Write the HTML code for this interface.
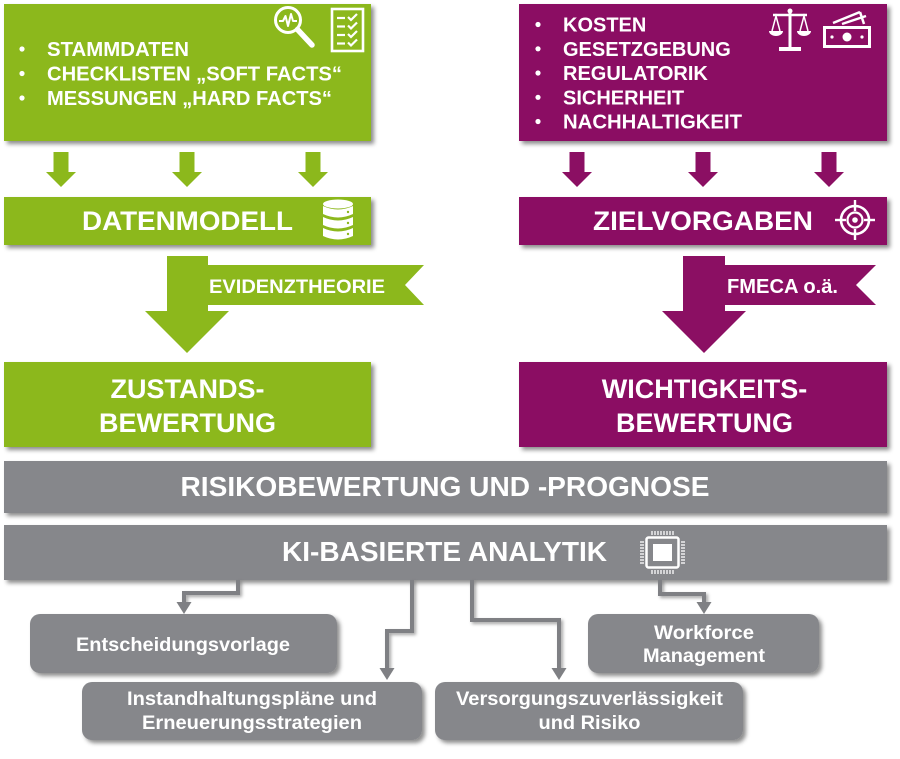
<!DOCTYPE html>
<html><head><meta charset="utf-8"><style>
html,body{margin:0;padding:0;background:#fff;}
svg{display:block;}
text{font-family:"Liberation Sans",Arial,sans-serif;font-weight:bold;fill:#fff;}
</style></head><body>
<svg width="900" height="759" viewBox="0 0 900 759" xmlns="http://www.w3.org/2000/svg">
<defs>
<filter id="sh" x="-5%" y="-10%" width="115%" height="130%">
<feDropShadow dx="3" dy="3" stdDeviation="2" flood-color="#000" flood-opacity="0.45"/>
</filter>
<filter id="sh2" x="-5%" y="-10%" width="115%" height="130%">
<feDropShadow dx="2" dy="2" stdDeviation="1.5" flood-color="#000" flood-opacity="0.35"/>
</filter>
</defs>

<!-- ===== Top green box ===== -->
<rect x="4" y="4" width="367" height="137" fill="#8CB81C" filter="url(#sh)"/>
<circle cx="22" cy="49" r="2.6" fill="#fff"/>
<circle cx="22" cy="73.5" r="2.6" fill="#fff"/>
<circle cx="22" cy="98" r="2.6" fill="#fff"/>
<text x="47" y="56" font-size="20" textLength="142" lengthAdjust="spacingAndGlyphs">STAMMDATEN</text>
<text x="47" y="80.5" font-size="20" textLength="295" lengthAdjust="spacingAndGlyphs">CHECKLISTEN „SOFT FACTS“</text>
<text x="47" y="105" font-size="20" textLength="285" lengthAdjust="spacingAndGlyphs">MESSUNGEN „HARD FACTS“</text>
<!-- magnifier icon -->
<circle cx="288" cy="20" r="12.5" fill="none" stroke="#fff" stroke-width="3"/>
<line x1="297.5" y1="29.5" x2="312" y2="45" stroke="#fff" stroke-width="5.5" stroke-linecap="round"/>
<polyline points="279,21 283,21 285.5,16 288,26 291,14 293,21 297,21" fill="none" stroke="#fff" stroke-width="2" stroke-linejoin="round"/>
<!-- checklist icon -->
<rect x="332" y="9" width="31" height="42" fill="none" stroke="#fff" stroke-width="2.6"/>
<g stroke="#fff" stroke-width="2.2" fill="none">
<line x1="337" y1="18" x2="345" y2="18"/><polyline points="348,17 351,20 357,14"/>
<line x1="337" y1="26.5" x2="345" y2="26.5"/><polyline points="348,25.5 351,28.5 357,22.5"/>
<line x1="337" y1="35" x2="345" y2="35"/><polyline points="348,34 351,37 357,31"/>
<line x1="337" y1="43.5" x2="345" y2="43.5"/><polyline points="348,42.5 351,45.5 357,39.5"/>
</g>

<!-- ===== Top purple box ===== -->
<rect x="519" y="4" width="368" height="137" fill="#8B0F63" filter="url(#sh)"/>
<circle cx="538" cy="24.5" r="2.6" fill="#fff"/>
<circle cx="538" cy="48.8" r="2.6" fill="#fff"/>
<circle cx="538" cy="73" r="2.6" fill="#fff"/>
<circle cx="538" cy="97.3" r="2.6" fill="#fff"/>
<circle cx="538" cy="121.5" r="2.6" fill="#fff"/>
<text x="563" y="31.5" font-size="20">KOSTEN</text>
<text x="563" y="55.8" font-size="20">GESETZGEBUNG</text>
<text x="563" y="80" font-size="20">REGULATORIK</text>
<text x="563" y="104.3" font-size="20">SICHERHEIT</text>
<text x="563" y="128.5" font-size="20" textLength="179" lengthAdjust="spacingAndGlyphs">NACHHALTIGKEIT</text>
<!-- scales icon -->
<g fill="#fff" stroke="#fff">
<line x1="790" y1="9" x2="790" y2="48" stroke-width="3"/>
<line x1="773" y1="15" x2="807" y2="15" stroke-width="2.5"/>
<circle cx="790" cy="11" r="2.5" stroke="none"/>
<rect x="779" y="47" width="22" height="4" stroke="none"/>
<polyline points="772,31 776,16 780,31" fill="none" stroke-width="1.5"/>
<polyline points="800,31 804,16 808,31" fill="none" stroke-width="1.5"/>
<path d="M769,31 H783 A7,5 0 0 1 769,31 Z" stroke="none"/>
<path d="M797,31 H811 A7,5 0 0 1 797,31 Z" stroke="none"/>
</g>
<!-- money icon -->
<g stroke="#fff" fill="none">
<rect x="824.5" y="27.5" width="45" height="19" stroke-width="3"/>
<line x1="833" y1="23" x2="860" y2="12" stroke-width="2.5"/>
<line x1="842" y1="24" x2="866" y2="16" stroke-width="2.5"/>
<line x1="860" y1="12" x2="864" y2="24" stroke-width="2.5"/>
</g>
<circle cx="847" cy="37" r="4.5" fill="#fff"/>
<circle cx="832" cy="37" r="1.6" fill="#fff"/>
<circle cx="862" cy="37" r="1.6" fill="#fff"/>

<!-- ===== small arrows ===== -->
<g fill="#8CB81C">
<polygon points="53.5,152 68.5,152 68.5,172 76,172 61,187 46,172 53.5,172"/>
<polygon points="179.5,152 194.5,152 194.5,172 202,172 187,187 172,172 179.5,172"/>
<polygon points="305.5,152 320.5,152 320.5,172 328,172 313,187 298,172 305.5,172"/>
</g>
<g fill="#8B0F63">
<polygon points="569.5,152 584.5,152 584.5,172 592,172 577,187 562,172 569.5,172"/>
<polygon points="695.5,152 710.5,152 710.5,172 718,172 703,187 688,172 695.5,172"/>
<polygon points="821.5,152 836.5,152 836.5,172 844,172 829,187 814,172 821.5,172"/>
</g>

<!-- ===== DATENMODELL ===== -->
<rect x="4" y="197" width="367" height="48" fill="#8CB81C" filter="url(#sh)"/>
<text x="82" y="230" font-size="27" textLength="211" lengthAdjust="spacingAndGlyphs">DATENMODELL</text>
<!-- database icon -->
<g fill="#fff">
<ellipse cx="338" cy="204" rx="15" ry="4.5"/>
<path d="M323,206 Q338,213 353,206 V214 Q338,221 323,214 Z"/>
<path d="M323,217 Q338,224 353,217 V225 Q338,232 323,225 Z"/>
<path d="M323,228 Q338,235 353,228 V236 Q338,243 323,236 Z"/>
</g>
<g fill="#8CB81C">
<circle cx="348" cy="212" r="1.2"/><circle cx="348" cy="223" r="1.2"/><circle cx="348" cy="234" r="1.2"/>
</g>

<!-- ===== ZIELVORGABEN ===== -->
<rect x="519" y="197" width="368" height="48" fill="#8B0F63" filter="url(#sh)"/>
<text x="593" y="230" font-size="27" textLength="220" lengthAdjust="spacingAndGlyphs">ZIELVORGABEN</text>
<!-- target icon -->
<g stroke="#fff" fill="none">
<circle cx="855" cy="220" r="14" stroke-width="2.6"/>
<circle cx="855" cy="220" r="7.5" stroke-width="2.2"/>
<line x1="835" y1="220" x2="846" y2="220" stroke-width="2.4"/>
<line x1="864" y1="220" x2="875" y2="220" stroke-width="2.4"/>
<line x1="855" y1="200" x2="855" y2="211" stroke-width="2.4"/>
<line x1="855" y1="229" x2="855" y2="240" stroke-width="2.4"/>
</g>
<circle cx="855" cy="220" r="2.8" fill="#fff"/>

<!-- ===== big arrows + banners ===== -->
<polygon points="167,256 208,256 208,311 229,311 187,353 145,311 167,311" fill="#8CB81C"/>
<polygon points="208,265 424,265 405,285 424,305 208,305" fill="#8CB81C"/>
<text x="209" y="293" font-size="19.5" textLength="176" lengthAdjust="spacingAndGlyphs">EVIDENZTHEORIE</text>

<polygon points="683,256 725,256 725,311 746,311 704,353 662,311 683,311" fill="#8B0F63"/>
<polygon points="725,265 876,265 856,285 876,305 725,305" fill="#8B0F63"/>
<text x="727" y="293" font-size="20" textLength="111" lengthAdjust="spacingAndGlyphs">FMECA o.ä.</text>

<!-- ===== Bewertung boxes ===== -->
<rect x="4" y="362" width="367" height="85" fill="#8CB81C" filter="url(#sh)"/>
<text x="187.5" y="398" font-size="27" text-anchor="middle">ZUSTANDS-</text>
<text x="187.5" y="432" font-size="27" text-anchor="middle">BEWERTUNG</text>

<rect x="519" y="362" width="368" height="85" fill="#8B0F63" filter="url(#sh)"/>
<text x="704.5" y="398" font-size="27" text-anchor="middle">WICHTIGKEITS-</text>
<text x="704.5" y="432" font-size="27" text-anchor="middle">BEWERTUNG</text>

<!-- ===== gray bars ===== -->
<rect x="4" y="461" width="883" height="52" fill="#86878B" filter="url(#sh)"/>
<text x="445" y="496" font-size="27.5" text-anchor="middle" textLength="529" lengthAdjust="spacingAndGlyphs">RISIKOBEWERTUNG UND -PROGNOSE</text>

<rect x="4" y="525" width="883" height="55" fill="#86878B" filter="url(#sh)"/>
<text x="282" y="561" font-size="27.5" textLength="325" lengthAdjust="spacingAndGlyphs">KI-BASIERTE ANALYTIK</text>
<!-- chip icon -->
<rect x="646.5" y="537.5" width="32" height="30" rx="2" fill="none" stroke="#fff" stroke-width="2.5"/>
<rect x="653" y="544" width="19" height="17" fill="#fff"/>
<g stroke="#fff" stroke-width="1.3">
<line x1="652" y1="531" x2="652" y2="535"/><line x1="655" y1="531" x2="655" y2="535"/><line x1="658" y1="531" x2="658" y2="535"/><line x1="661" y1="531" x2="661" y2="535"/><line x1="664" y1="531" x2="664" y2="535"/><line x1="667" y1="531" x2="667" y2="535"/><line x1="670" y1="531" x2="670" y2="535"/><line x1="673" y1="531" x2="673" y2="535"/>
<line x1="652" y1="570" x2="652" y2="574"/><line x1="655" y1="570" x2="655" y2="574"/><line x1="658" y1="570" x2="658" y2="574"/><line x1="661" y1="570" x2="661" y2="574"/><line x1="664" y1="570" x2="664" y2="574"/><line x1="667" y1="570" x2="667" y2="574"/><line x1="670" y1="570" x2="670" y2="574"/><line x1="673" y1="570" x2="673" y2="574"/>
<line x1="640" y1="542" x2="644" y2="542"/><line x1="640" y1="545" x2="644" y2="545"/><line x1="640" y1="548" x2="644" y2="548"/><line x1="640" y1="551" x2="644" y2="551"/><line x1="640" y1="554" x2="644" y2="554"/><line x1="640" y1="557" x2="644" y2="557"/><line x1="640" y1="560" x2="644" y2="560"/><line x1="640" y1="563" x2="644" y2="563"/>
<line x1="681" y1="542" x2="685" y2="542"/><line x1="681" y1="545" x2="685" y2="545"/><line x1="681" y1="548" x2="685" y2="548"/><line x1="681" y1="551" x2="685" y2="551"/><line x1="681" y1="554" x2="685" y2="554"/><line x1="681" y1="557" x2="685" y2="557"/><line x1="681" y1="560" x2="685" y2="560"/><line x1="681" y1="563" x2="685" y2="563"/>
</g>

<!-- ===== connectors ===== -->
<g stroke="#7F8084" stroke-width="4" fill="none" filter="url(#sh2)">
<polyline points="238,580 238,593 184,593 184,603"/>
<polyline points="412,580 412,631 387,631 387,669"/>
<polyline points="472,580 472,620 559,620 559,669"/>
<polyline points="660,580 660,594 704,594 704,603"/>
</g>
<g fill="#7F8084">
<polygon points="176.5,602 191.5,602 184,614"/>
<polygon points="379.5,668 394.5,668 387,680"/>
<polygon points="551.5,668 566.5,668 559,680"/>
<polygon points="696.5,602 711.5,602 704,614"/>
</g>

<!-- ===== output boxes ===== -->
<g fill="#86878B" filter="url(#sh)">
<rect x="30" y="614" width="307" height="59" rx="10"/>
<rect x="588" y="614" width="231" height="59" rx="10"/>
<rect x="82" y="682" width="340" height="58" rx="10"/>
<rect x="435" y="682" width="308" height="58" rx="10"/>
</g>
<text x="183" y="651" font-size="19" text-anchor="middle" textLength="214" lengthAdjust="spacingAndGlyphs">Entscheidungsvorlage</text>
<text x="704" y="639" font-size="19" text-anchor="middle" textLength="100" lengthAdjust="spacingAndGlyphs">Workforce</text>
<text x="704" y="662" font-size="19" text-anchor="middle" textLength="122" lengthAdjust="spacingAndGlyphs">Management</text>
<text x="252" y="705" font-size="19" text-anchor="middle" textLength="250" lengthAdjust="spacingAndGlyphs">Instandhaltungspläne und</text>
<text x="252" y="729" font-size="19" text-anchor="middle" textLength="220" lengthAdjust="spacingAndGlyphs">Erneuerungsstrategien</text>
<text x="589.5" y="705" font-size="19" text-anchor="middle" textLength="267" lengthAdjust="spacingAndGlyphs">Versorgungszuverlässigkeit</text>
<text x="589.5" y="729" font-size="19" text-anchor="middle" textLength="102" lengthAdjust="spacingAndGlyphs">und Risiko</text>
</svg>
</body></html>
